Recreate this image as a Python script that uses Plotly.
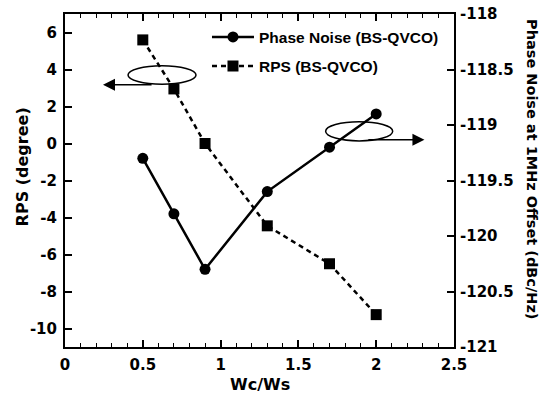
import plotly.graph_objects as go

wc_ws = [0.5, 0.7, 0.9, 1.3, 1.7, 2.0]
phase_noise = [-119.3, -119.8, -120.3, -119.6, -119.2, -118.9]
rps = [5.6, 2.95, 0.0, -4.45, -6.5, -9.25]

x_ticks = [0, 0.5, 1, 1.5, 2, 2.5]
x_labels = ["0", "0.5", "1", "1.5", "2", "2.5"]
y1_ticks = [-10, -8, -6, -4, -2, 0, 2, 4, 6]
y1_labels = ["-10", "-8", "-6", "-4", "-2", "0", "2", "4", "6"]
y2_ticks = [-121, -120.5, -120, -119.5, -119, -118.5, -118]
y2_labels = ["-121", "-120.5", "-120", "-119.5", "-119", "-118.5", "-118"]

TF = "DejaVu Sans"
tickfont = dict(family=TF, size=15, color="black", weight="bold")

fig = go.Figure()
fig.add_trace(go.Scatter(
    x=wc_ws, y=phase_noise, name="Phase Noise (BS-QVCO)", yaxis="y2",
    mode="lines+markers", line=dict(color="black", width=2.5),
    marker=dict(symbol="circle", size=11, color="black"),
    legendgroup="a"))
fig.add_trace(go.Scatter(
    x=wc_ws, y=rps, name="RPS (BS-QVCO)", yaxis="y",
    mode="lines+markers", line=dict(color="black", width=2.5, dash="5px,4px"),
    marker=dict(symbol="square", size=11, color="black"),
    legendgroup="b"))

axis_common = dict(showline=True, linecolor="black", linewidth=2, ticks="inside",
                   ticklen=7, tickwidth=1.5, tickcolor="black", showgrid=False,
                   zeroline=False, tickfont=tickfont)

fig.update_layout(
    width=544, height=402,
    margin=dict(l=65, r=90, t=14, b=55, autoexpand=False),
    paper_bgcolor="white", plot_bgcolor="white",
    showlegend=True,
    legend=dict(x=0.365, y=0.981, xanchor="left", yanchor="top", itemwidth=42,
                bgcolor="rgba(0,0,0,0)", traceorder="grouped", tracegroupgap=6,
                font=dict(family="Liberation Sans", size=15.5, color="black", weight="bold")),
    xaxis=dict(range=[0, 2.5], tickvals=x_ticks, ticktext=x_labels, mirror="ticks",
               ticklabelstandoff=3,
               minor=dict(dtick=0.1, ticks="inside", ticklen=4, tickwidth=1.2, tickcolor="black"),
               **axis_common),
    yaxis=dict(range=[-11, 7], tickvals=y1_ticks, ticktext=y1_labels, ticklabelstandoff=3,
               **axis_common),
    yaxis2=dict(range=[-121, -118], tickvals=y2_ticks, ticktext=y2_labels,
                overlaying="y", side="right", ticklabelstandoff=1, **axis_common),
)

titlefont = dict(family=TF, size=16, color="black", weight="bold")
fig.add_annotation(text="Wc/Ws", xref="paper", yref="paper", x=0.5, y=-0.114,
                   showarrow=False, font=titlefont, xanchor="center", yanchor="middle")
fig.add_annotation(text="RPS (degree)", xref="paper", yref="paper", x=-0.11, y=0.54,
                   showarrow=False, font=titlefont, textangle=-90,
                   xanchor="center", yanchor="middle")
fig.add_annotation(text="Phase Noise at 1MHz Offset (dBc/Hz)", xref="paper", yref="paper",
                   x=1.2, y=0.535, showarrow=False,
                   font=dict(family=TF, size=14.5, color="black", weight="bold"), textangle=90,
                   xanchor="center", yanchor="middle")

# ellipses and arrows indicating axes
fig.add_shape(type="circle", xref="x", yref="y", x0=0.405, x1=0.842, y0=3.2, y1=4.2,
              line=dict(color="black", width=1.5))
fig.add_shape(type="circle", xref="x", yref="y", x0=1.675, x1=2.106, y0=0.14, y1=1.18,
              line=dict(color="black", width=1.5))
fig.add_annotation(x=0.244, y=3.17, ax=0.566, ay=3.17, xref="x", yref="y", axref="x", ayref="y",
                   text="", showarrow=True, arrowhead=2, arrowsize=1.6, arrowwidth=1.5,
                   arrowcolor="black")
fig.add_annotation(x=2.31, y=0.2, ax=1.94, ay=0.2, xref="x", yref="y", axref="x", ayref="y",
                   text="", showarrow=True, arrowhead=2, arrowsize=1.6, arrowwidth=1.5,
                   arrowcolor="black")

fig.write_html("out.html", config={"displayModeBar": False},
               post_script="document.body.style.margin='0px';")
